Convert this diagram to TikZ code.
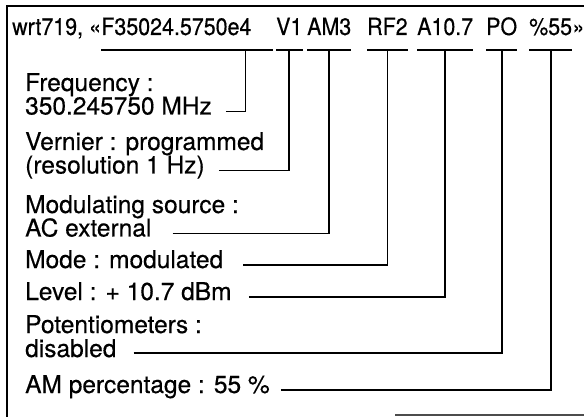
\documentclass[tikz,border=0pt]{standalone}
\usepackage{fontspec}
\setmainfont{TeX Gyre Heros}[FakeBold=0.4]
\newfontfamily\cmdfont{TeX Gyre Heros}[FakeStretch=0.9, FakeBold=0.4]
\usetikzlibrary{positioning}

\begin{document}
\begin{tikzpicture}[x=1pt, y=-1pt,
	field/.style = {anchor=base west, inner sep=0pt, font=\cmdfont\fontsize{23.8}{26}\selectfont},
	lbl/.style = {anchor=base west, inner sep=0pt, font=\fontsize{24.5}{28}\selectfont},
	wire/.style = {line width=1.8pt}]
			\useasboundingbox (0,0) rectangle (584,417);
			% frame
			\draw[line width=2pt] (584,6) -- (7,6) -- (7,417);
			\draw[line width=1.2pt, black!70] (395,415) -- (584,415);
			
			% command line
			\node[field] (hdr) at (12,35) {wrt719, «};
			\node[field] (fF) at (hdr.base east) {F35024.5750e4};
			\node[field] (fV) at (276,35) {V1};
			\node[field] (fAM) at (307,35) {AM3};
			\node[field] (fRF) at (367,35) {RF2};
			\node[field] (fA) at (417,35) {A10.7};
			\node[field] (fPO) at (486,35) {PO};
			\node[field] (fP) at (529,35) {\%55};
			\node[field] (hend) at (fP.base east) {»};
			
			\draw[wire] ([yshift=-15pt]fF.base west) -- ([shift={(21,15)}]fF.base east);
			\foreach \f in {fV,fAM,fRF,fA,fPO,fP}
				\draw[wire] ([yshift=-15pt]\f.base west) -- ([yshift=-15pt]\f.base east);
			
			% explanations
			\node[lbl] (fq1) at (25,91) {Frequency :};
			\node[lbl] (fq2) at ([yshift=-23.5pt]fq1.base west) {350.245750 MHz};
			\node[lbl] (vn1) at (25,150) {Vernier : programmed};
			\node[lbl] (vn2) at ([yshift=-23.5pt]vn1.base west) {(resolution 1 Hz)};
			\node[lbl] (ms1) at (25,213) {Modulating source :};
			\node[lbl] (ms2) at ([yshift=-23.5pt]ms1.base west) {AC external};
			\node[lbl] (md) at (25,268) {Mode : modulated};
			\node[lbl] (lv) at (25,300) {Level : + 10.7 dBm};
			\node[lbl] (pt1) at (25,333) {Potentiometers :};
			\node[lbl] (pt2) at ([yshift=-24pt]pt1.base west) {disabled};
			\node[lbl] (am) at (25,393) {AM percentage : 55 \%};
			
			\draw[wire] ([shift={(14,-3)}]fq2.base east) -| ([shift={(-6,15)}]fF.base east);
			\draw[wire] ([shift={(14,-3)}]vn2.base east) -| ([yshift=-15pt]fV.base);
			\draw[wire] ([shift={(21,-3)}]ms2.base east) -| ([yshift=-15pt]fAM.base);
			\draw[wire] ([shift={(20,-3)}]md.base east) -| ([yshift=-15pt]fRF.base);
			\draw[wire] ([shift={(17,-3)}]lv.base east) -| ([yshift=-15pt]fA.base);
			\draw[wire] ([shift={(17,-4)}]pt2.base east) -| ([yshift=-15pt]fPO.base);
			\draw[wire] ([shift={(11,-3)}]am.base east) -| ([yshift=-15pt]fP.base);
		\end{tikzpicture}
\end{document}
